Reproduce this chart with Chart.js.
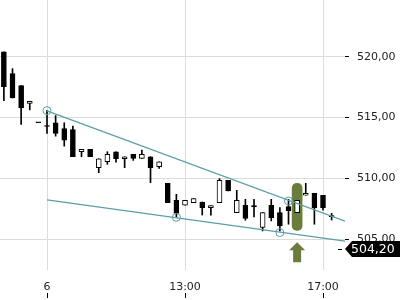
<!DOCTYPE html>
<html><head><meta charset="utf-8">
<script src="https://cdn.jsdelivr.net/npm/chart.js@4.4.0/dist/chart.umd.min.js"></script>
<style>html,body{margin:0;padding:0;background:#fff}#wrap{width:400px;height:300px;position:relative}</style>
</head><body><div id="wrap"><canvas id="c"></canvas></div>
<script>
// candle slots (15-minute bars), index 5 = day "6" 09:00
const slots  = [0,1,2,3,4,5,6,7,8,9,10,11,12,13,14,15,16,17,18,19,20,21,22,23,24,25,26,27,28,29,30,31,32,33,34,35,36,37,38];
const opens  = [520.41,518.61,517.62,516.17,514.57,514.28,514.57,514.10,514.02,512.19,512.38,510.88,511.37,512.19,511.61,511.97,511.64,511.78,510.96,509.59,508.20,507.79,508.01,508.06,507.60,508.01,509.84,507.19,507.79,507.68,505.96,507.79,507.19,507.68,507.19,508.61,508.77,508.61,506.86];
const highs  = [520.41,519.02,517.62,516.34,514.57,515.57,515.16,514.57,514.29,512.38,512.38,511.61,512.19,512.19,511.78,511.97,512.32,511.78,511.37,509.59,508.69,508.20,508.34,508.06,507.76,509.98,509.84,509.02,508.28,508.28,507.19,508.28,507.60,508.28,508.20,509.59,508.77,508.61,507.13];
const lows   = [516.39,516.61,514.43,515.63,514.57,513.69,513.47,512.65,511.78,511.78,511.78,510.47,511.15,511.34,510.88,511.48,511.64,509.65,510.82,508.01,506.80,507.79,508.01,506.99,506.97,508.01,508.96,507.19,506.56,506.83,505.68,506.50,505.68,506.23,507.19,508.61,506.23,507.38,506.58];
const closes = [517.54,516.61,515.80,516.34,514.57,514.26,513.69,513.14,511.78,512.38,511.78,511.61,511.97,511.61,511.78,511.64,511.97,510.88,511.37,508.01,507.11,508.20,508.34,507.60,507.76,509.84,508.96,508.20,506.70,507.68,507.19,506.78,506.09,507.35,508.20,508.77,507.60,507.60,506.86];

const xTickPos    = [5, 21, 37];
const xTickLabels = ['6', '13:00', '17:00'];
const yTicks      = [505, 510, 515, 520];

// trend lines [slot, value]
const upperLine = [[5, 515.55], [39.55, 506.48]];
const lowerLine = [[5, 508.23], [39.55, 504.85]];
// touch circles
const touchSlots  = [5, 20, 32, 33];
const touchValues = [515.57, 506.80, 505.55, 508.14];
// highlight capsule & arrow
const highlightSlot = 34;
const highlightRange = [505.73, 509.59];
const arrowRange = [504.76, 503.10]; // tip, stem end
const lastPrice = 504.20;

const fmt = v => v.toFixed(2).replace('.', ',');
const isUp = i => closes[i] > opens[i];

const bodies = slots.map(i => ({x: i, y: [opens[i], closes[i]]}));
const wicks  = slots.map(i => ({x: i, y: [lows[i], highs[i]]}));

const TEAL = '#5c9ea6';
const GREEN = '#6b7d3c';

const zeroPad = s => { s.paddingTop = 0; s.paddingBottom = 0; s.paddingLeft = 0; s.paddingRight = 0; };

const extras = {
  id: 'extras',
  afterDraw(chart) {
    const {ctx, scales: {x, y}, chartArea} = chart;
    ctx.save();
    // x tick marks below labels
    ctx.strokeStyle = '#000'; ctx.lineWidth = 1;
    xTickPos.forEach(v => {
      const px = Math.round(x.getPixelForValue(v)) + 0.5;
      ctx.beginPath(); ctx.moveTo(px, 293); ctx.lineTo(px, 298); ctx.stroke();
    });
    // arrow
    const ax = x.getPixelForValue(highlightSlot);
    const tip = y.getPixelForValue(arrowRange[0]);
    const end = y.getPixelForValue(arrowRange[1]);
    ctx.fillStyle = GREEN;
    ctx.beginPath();
    ctx.moveTo(ax, tip);
    ctx.lineTo(ax + 8, tip + 8);
    ctx.lineTo(ax + 4, tip + 8);
    ctx.lineTo(ax + 4, end);
    ctx.lineTo(ax - 4, end);
    ctx.lineTo(ax - 4, tip + 8);
    ctx.lineTo(ax - 8, tip + 8);
    ctx.closePath(); ctx.fill();
    // price tag
    const py = Math.round(y.getPixelForValue(lastPrice));
    ctx.strokeStyle = '#000';
    ctx.beginPath(); ctx.moveTo(chartArea.right - 7, py + 0.5); ctx.lineTo(chartArea.right - 3, py + 0.5); ctx.stroke();
    ctx.fillStyle = '#000';
    ctx.beginPath();
    ctx.moveTo(chartArea.right, py);
    ctx.lineTo(chartArea.right + 7, py - 8);
    ctx.lineTo(400, py - 8);
    ctx.lineTo(400, py + 8);
    ctx.lineTo(chartArea.right + 7, py + 8);
    ctx.closePath(); ctx.fill();
    ctx.fillStyle = '#fff';
    ctx.font = '12.5px "DejaVu Sans"';
    ctx.textAlign = 'left'; ctx.textBaseline = 'middle';
    ctx.fillText(fmt(lastPrice), chartArea.right + 6, py + 1);
    ctx.restore();
  }
};

Chart.defaults.font.family = '"DejaVu Sans"';
Chart.defaults.font.size = 11;
Chart.defaults.color = '#222';

new Chart(document.getElementById('c'), {
  type: 'bar',
  data: {
    datasets: [
      {type: 'line', data: touchSlots.map((s, i) => ({x: s, y: touchValues[i]})), showLine: false,
        pointRadius: 4, pointBorderWidth: 1, pointBorderColor: TEAL, pointBackgroundColor: 'rgba(0,0,0,0)', order: 1},
      {type: 'line', data: upperLine.map(p => ({x: p[0], y: p[1]})), borderColor: TEAL, borderWidth: 1.2, pointRadius: 0, order: 2},
      {type: 'line', data: lowerLine.map(p => ({x: p[0], y: p[1]})), borderColor: TEAL, borderWidth: 1.2, pointRadius: 0, order: 2},
      {data: bodies, barThickness: 5, minBarLength: 1, grouped: false, borderSkipped: false, borderWidth: 1,
        borderColor: '#000', backgroundColor: slots.map(i => isUp(i) ? '#fff' : '#000'), order: 3},
      {data: wicks, barThickness: 1, grouped: false, borderWidth: 0, backgroundColor: '#000', order: 4},
      {data: [{x: highlightSlot, y: highlightRange}], barThickness: 10, grouped: false, borderSkipped: false,
        borderRadius: 5, borderWidth: 0, backgroundColor: GREEN, order: 5}
    ]
  },
  options: {
    animation: false, responsive: true, maintainAspectRatio: false,
    layout: {padding: 0, autoPadding: false},
    plugins: {legend: {display: false}, tooltip: {enabled: false}},
    scales: {
      x: {
        type: 'linear', min: -0.45, max: 39.55, offset: false,
        grid: {color: '#dcdcdc', drawTicks: false, offset: false},
        border: {display: false},
        afterBuildTicks: s => { s.ticks = xTickPos.map(v => ({value: v})); },
        afterFit: s => { s.height = 30; zeroPad(s); },
        ticks: {autoSkip: false, maxRotation: 0, padding: 11, color: '#222',
          callback: (v, i) => xTickLabels[i]}
      },
      y: {
        position: 'right', min: 502.47, max: 524.66,
        grid: {color: '#dcdcdc', tickLength: 4, tickColor: '#000'},
        border: {display: false},
        afterBuildTicks: s => { s.ticks = yTicks.map(v => ({value: v})); },
        afterFit: s => { s.width = 55; zeroPad(s); },
        ticks: {padding: 8, color: '#222', callback: v => fmt(v)}
      }
    }
  },
  plugins: [extras]
});
</script></body></html>
